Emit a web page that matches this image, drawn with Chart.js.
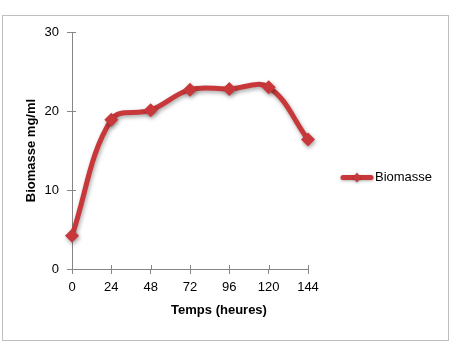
<!DOCTYPE html>
<html>
<head>
<meta charset="utf-8">
<script src="https://cdn.jsdelivr.net/npm/chart.js@4"></script>
<style>
  html, body { margin: 0; padding: 0; background: #fff; }
  #wrap { width: 451px; height: 344px; position: relative; }
</style>
</head>
<body>
<div id="wrap"><canvas id="chart" width="451" height="344"></canvas></div>
<script>
// data
const hours = [0, 24, 48, 72, 96, 120, 144];
const biomasse = [4.2, 18.9, 20.1, 22.7, 22.8, 23.0, 16.4];
const seriesName = "Biomasse";
const xTitle = "Temps (heures)";
const yTitle = "Biomasse mg/ml";

const red = "#c8383a";
const axisGray = "#868686";
const font = "'Liberation Sans', Arial, sans-serif";

// frame, axis titles, inner tick marks and legend drawn around the plot
const decor = {
    id: "decor",
    beforeDraw(chart) {
        const ctx = chart.ctx;
        ctx.save();
        ctx.fillStyle = "#fff";
        ctx.fillRect(0, 0, chart.width, chart.height);
        ctx.strokeStyle = "#bfbfbf";
        ctx.lineWidth = 1;
        ctx.strokeRect(2.5, 15.5, 446, 325);
        ctx.restore();
    },
    beforeDatasetsDraw(chart) {
        // ticks cross the axis lines, like in Excel
        const ctx = chart.ctx;
        const a = chart.chartArea;
        const xs = chart.scales.x, ys = chart.scales.y;
        ctx.save();
        ctx.strokeStyle = axisGray;
        ctx.lineWidth = 1;
        ctx.beginPath();
        xs.ticks.forEach(t => {
            const px = Math.round(xs.getPixelForValue(t.value)) + 0.5;
            ctx.moveTo(px, a.bottom);
            ctx.lineTo(px, a.bottom - 4);
        });
        ys.ticks.forEach(t => {
            const py = Math.round(ys.getPixelForValue(t.value)) + 0.5;
            ctx.moveTo(a.left, py);
            ctx.lineTo(a.left + 4, py);
        });
        ctx.stroke();
        ctx.restore();
    },
    beforeDatasetDraw(chart) {
        const ctx = chart.ctx;
        ctx.save();
        ctx.shadowColor = "rgba(0,0,0,0.35)";
        ctx.shadowBlur = 4;
        ctx.shadowOffsetX = 1;
        ctx.shadowOffsetY = 2;
    },
    afterDatasetDraw(chart) {
        chart.ctx.restore();
    },
    afterDraw(chart) {
        const ctx = chart.ctx;
        const a = chart.chartArea;
        ctx.save();
        ctx.fillStyle = "#000";
        ctx.font = "bold 13px " + font;
        ctx.textAlign = "center";
        ctx.textBaseline = "middle";
        ctx.fillText(xTitle, a.left + 147, 310);
        ctx.translate(31, (a.top + a.bottom) / 2);
        ctx.rotate(-Math.PI / 2);
        ctx.fillText(yTitle, 0, 0);
        ctx.restore();

        // legend
        const ly = (a.top + a.bottom) / 2 + 27;
        ctx.save();
        ctx.shadowColor = "rgba(0,0,0,0.3)";
        ctx.shadowBlur = 3;
        ctx.shadowOffsetY = 1;
        ctx.strokeStyle = red;
        ctx.lineWidth = 5;
        ctx.lineCap = "round";
        ctx.beginPath();
        ctx.moveTo(343, ly);
        ctx.lineTo(371, ly);
        ctx.stroke();
        ctx.fillStyle = red;
        ctx.beginPath();
        ctx.moveTo(357, ly - 5);
        ctx.lineTo(361, ly);
        ctx.lineTo(357, ly + 5);
        ctx.lineTo(353, ly);
        ctx.closePath();
        ctx.fill();
        ctx.restore();
        ctx.save();
        ctx.fillStyle = "#000";
        ctx.font = "13px " + font;
        ctx.textBaseline = "middle";
        ctx.fillText(seriesName, 375, ly);
        ctx.restore();
    }
};

new Chart(document.getElementById("chart"), {
    type: "line",
    data: {
        labels: hours,
        datasets: [{
            label: seriesName,
            data: hours.map((h, i) => ({ x: h, y: biomasse[i] })),
            borderColor: red,
            backgroundColor: red,
            borderWidth: 5,
            tension: 0.38,
            pointStyle: "rectRot",
            pointRadius: 7,
            pointHoverRadius: 7,
            pointBorderWidth: 0,
            clip: false
        }]
    },
    options: {
        responsive: false,
        animation: false,
        events: [],
        layout: { padding: { left: 0, top: 32, right: 143, bottom: 0 } },
        plugins: { legend: { display: false }, tooltip: { enabled: false } },
        scales: {
            x: {
                type: "linear",
                min: 0,
                max: 144,
                afterFit: (s) => { s.height = 75; },
                ticks: { stepSize: 24, color: "#000", padding: 6, font: { family: font, size: 13 } },
                grid: { drawOnChartArea: false, drawTicks: true, tickLength: 5, color: axisGray },
                border: { color: axisGray, width: 1 }
            },
            y: {
                min: 0,
                max: 30,
                afterFit: (s) => { s.width = 72; },
                ticks: { stepSize: 10, color: "#000", padding: 8, font: { family: font, size: 13 } },
                grid: { drawOnChartArea: false, drawTicks: true, tickLength: 5, color: axisGray },
                border: { color: axisGray, width: 1 }
            }
        }
    },
    plugins: [decor]
});
</script>
</body>
</html>
